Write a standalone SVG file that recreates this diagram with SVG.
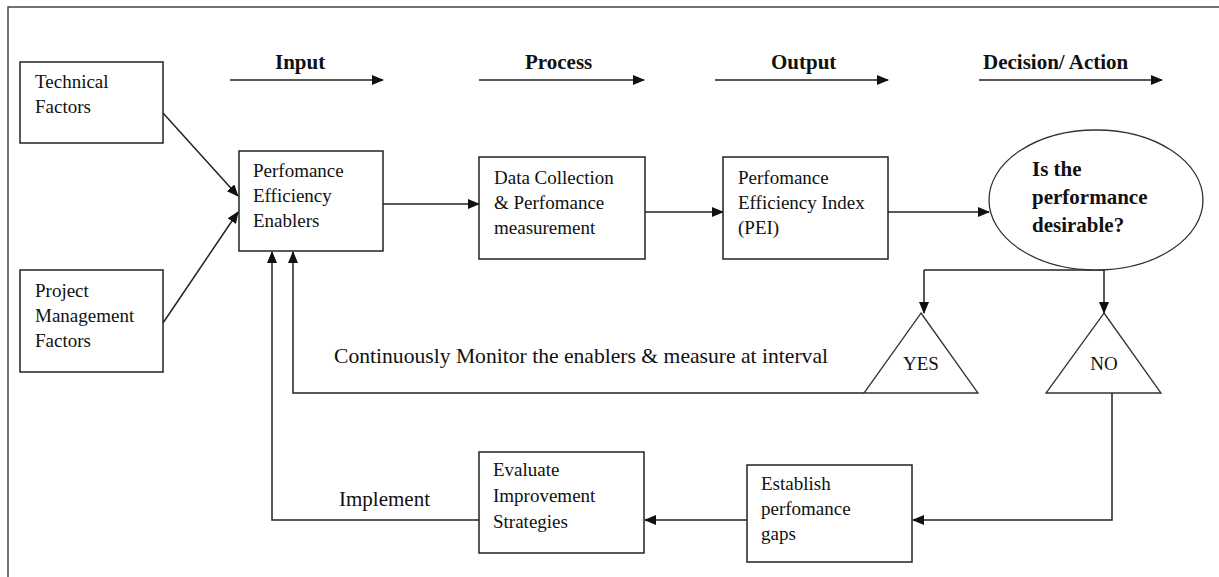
<svg xmlns="http://www.w3.org/2000/svg" width="1219" height="577" viewBox="0 0 1219 577">
<style>
.box{fill:#fff;stroke:#222;stroke-width:1.5}
text{font-family:'Liberation Serif','DejaVu Serif',serif;fill:#111}
.t{font-size:19px}
.tl{font-size:21px}
.h{font-size:21px;font-weight:bold}
.line{fill:none;stroke:#222;stroke-width:1.5}
</style>
<defs>
<marker id="ah" markerUnits="userSpaceOnUse" markerWidth="12" markerHeight="10" refX="11" refY="5" orient="auto">
<path d="M0,0 L12,5 L0,10 Z" fill="#111"/>
</marker>
</defs>
<rect width="1219" height="577" fill="#fff"/>
<path d="M8,577 L8,7 L1219,7" fill="none" stroke="#444" stroke-width="1.5"/>

<g id="headers">
<text class="h" x="275" y="69">Input</text>
<text class="h" x="525" y="69">Process</text>
<text class="h" x="771" y="69">Output</text>
<text class="h" x="983" y="69">Decision/ Action</text>
</g>

<g id="connectors">
<line class="line" x1="230" y1="80" x2="383" y2="80" marker-end="url(#ah)"/>
<line class="line" x1="479" y1="80" x2="644" y2="80" marker-end="url(#ah)"/>
<line class="line" x1="715" y1="80" x2="888" y2="80" marker-end="url(#ah)"/>
<line class="line" x1="979" y1="80" x2="1162" y2="80" marker-end="url(#ah)"/>
<line class="line" x1="163" y1="113" x2="238" y2="196" marker-end="url(#ah)"/>
<line class="line" x1="163" y1="323" x2="238" y2="212" marker-end="url(#ah)"/>
<line class="line" x1="383" y1="204" x2="479" y2="204" marker-end="url(#ah)"/>
<line class="line" x1="645" y1="212" x2="723" y2="212" marker-end="url(#ah)"/>
<line class="line" x1="888" y1="212" x2="989" y2="212" marker-end="url(#ah)"/>
<polyline class="line" points="924,270 1104,270"/>
<line class="line" x1="924" y1="270" x2="924" y2="313" marker-end="url(#ah)"/>
<line class="line" x1="1104" y1="270" x2="1104" y2="313" marker-end="url(#ah)"/>
<polyline class="line" points="864,393 293,393 293,252" marker-end="url(#ah)"/>
<polyline class="line" points="1112,393 1112,520 913,520" marker-end="url(#ah)"/>
<line class="line" x1="747" y1="520" x2="645" y2="520" marker-end="url(#ah)"/>
<polyline class="line" points="479,520 272,520 272,252" marker-end="url(#ah)"/>
</g>

<g id="technical">
<rect class="box" x="20" y="62" width="143" height="81"/>
<text class="t" x="35" y="88">Technical</text>
<text class="t" x="35" y="113">Factors</text>
</g>

<g id="project">
<rect class="box" x="20" y="270" width="143" height="102"/>
<text class="t" x="35" y="297">Project</text>
<text class="t" x="35" y="322">Management</text>
<text class="t" x="35" y="347">Factors</text>
</g>

<g id="enablers">
<rect class="box" x="239" y="151" width="144" height="100"/>
<text class="t" x="253" y="177">Perfomance</text>
<text class="t" x="253" y="202">Efficiency</text>
<text class="t" x="253" y="227">Enablers</text>
</g>

<g id="datacollection">
<rect class="box" x="479" y="157" width="166" height="102"/>
<text class="t" x="494" y="184">Data Collection</text>
<text class="t" x="494" y="209">&amp; Perfomance</text>
<text class="t" x="494" y="234">measurement</text>
</g>

<g id="pei">
<rect class="box" x="723" y="157" width="165" height="102"/>
<text class="t" x="738" y="184">Perfomance</text>
<text class="t" x="738" y="209">Efficiency Index</text>
<text class="t" x="738" y="234">(PEI)</text>
</g>

<g id="decision">
<ellipse cx="1096" cy="200" rx="107" ry="70" fill="#fff" stroke="#333" stroke-width="1.3"/>
<text class="h" x="1032" y="176">Is the</text>
<text class="h" x="1032" y="204">performance</text>
<text class="h" x="1032" y="232">desirable?</text>
</g>

<g id="yes">
<polygon points="921,313 978,393 864,393" fill="#fff" stroke="#333" stroke-width="1.3"/>
<text class="t" x="921" y="370" text-anchor="middle">YES</text>
</g>

<g id="no">
<polygon points="1104,313 1161,393 1046,393" fill="#fff" stroke="#333" stroke-width="1.3"/>
<text class="t" x="1104" y="370" text-anchor="middle">NO</text>
</g>

<g id="monitor-label">
<text class="tl" x="334" y="363" textLength="494" lengthAdjust="spacingAndGlyphs">Continuously Monitor the enablers &amp; measure at interval</text>
</g>

<g id="implement-label">
<text class="tl" x="339" y="506">Implement</text>
</g>

<g id="evaluate">
<rect class="box" x="479" y="452" width="165" height="101"/>
<text class="t" x="493" y="476">Evaluate</text>
<text class="t" x="493" y="502">Improvement</text>
<text class="t" x="493" y="528">Strategies</text>
</g>

<g id="establish">
<rect class="box" x="747" y="465" width="165" height="97"/>
<text class="t" x="761" y="490">Establish</text>
<text class="t" x="761" y="515">perfomance</text>
<text class="t" x="761" y="540">gaps</text>
</g>
</svg>
